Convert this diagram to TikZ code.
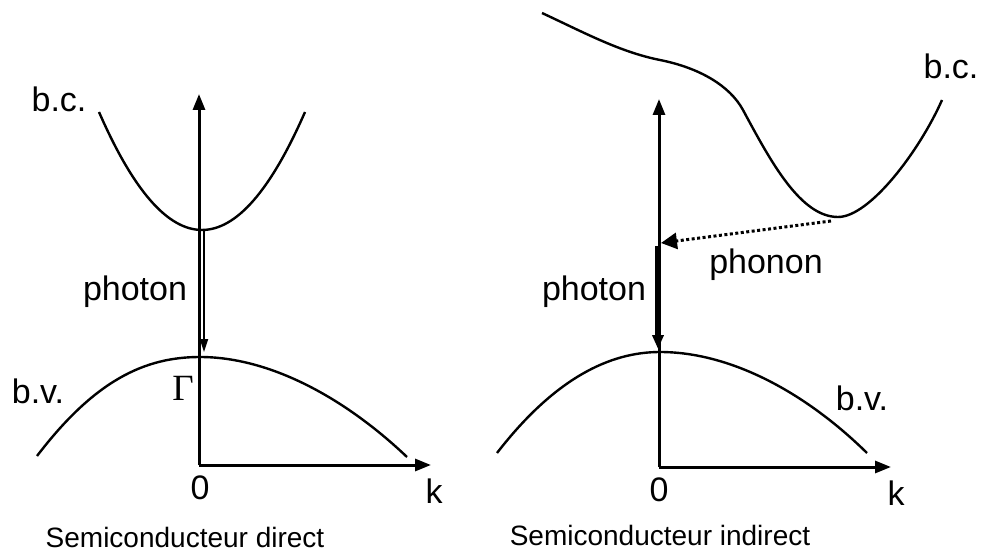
\documentclass[tikz,border=0pt]{standalone}
\usepackage{fontspec}
\setmainfont{Liberation Sans}
\newfontfamily\gammafont{Liberation Serif}
\usetikzlibrary{arrows.meta}
\tikzset{
  lbl/.style={inner sep=0pt, font=\fontsize{34}{40}\selectfont},
  captxt/.style={inner sep=0pt, font=\fontsize{28}{34}\selectfont},
  gam/.style={inner sep=0pt, font=\gammafont\fontsize{37}{42}\selectfont},
  axis/.style={line width=3pt, -{Triangle[length=16pt,width=12pt]}},
  band/.style={line width=2.4pt},
  thinph/.style={line width=1.8pt, -{Triangle[length=13pt,width=8pt]}},
  thickph/.style={line width=6pt, -{Triangle[length=14pt,width=11pt]}},
  phon/.style={line width=3pt, dash pattern=on 3pt off 2.5pt, -{Triangle[length=16pt,width=16pt]}}
}
\begin{document}
\begin{tikzpicture}[x=1pt,y=-1pt]
\useasboundingbox (0,0) rectangle (983,556);
% ---------- left: direct ----------
\coordinate (O1) at (199,465);
\coordinate (Y1) at (199,94);
\coordinate (X1) at (431,465);
\draw[axis] (O1) -- (Y1);
\draw[axis] (O1) -- (X1);
\draw[band] (99,112) .. controls (167.7,269.3) and (236.3,269.3) .. (305,112);
\draw[band] (37,456) .. controls (95,380) and (145,357) .. (200,357) .. controls (270,357) and (345,398) .. (407,457);
\coordinate (P1a) at (204,230);
\coordinate (P1b) at (204,352);
\draw[thinph] (P1a) -- (P1b);
\node[lbl] (bc1) at (59,99) {b.c.};
\node[lbl] (bv1) at (38,391) {b.v.};
\node[lbl] (ph1) at (135,292) {photon};
\node[gam] (G) at (183,388) {Γ};
\node[lbl] (z1) at (200,488) {0};
\node[lbl] (k1) at (434,491) {k};
\node[captxt] (c1) at (185,537) {Semiconducteur direct};
% ---------- right: indirect ----------
\coordinate (O2) at (659,467);
\coordinate (Y2) at (659,99);
\coordinate (X2) at (891,467);
\draw[axis] (O2) -- (Y2);
\draw[axis] (O2) -- (X2);
\draw[band] (542,13) .. controls (585,33) and (620,52) .. (660,60)
  .. controls (700,68) and (730,86) .. (743,110)
  .. controls (770,160) and (800,217) .. (838,217)
  .. controls (870,217) and (920,150) .. (942,100);
\draw[band] (497,453) .. controls (555,378) and (610,352) .. (660,352) .. controls (730,352) and (805,392) .. (867,453);
\coordinate (P2a) at (658,246);
\coordinate (P2b) at (658,349);
\draw[thickph] (P2a) -- (P2b);
\coordinate (Q) at (831,221);
\coordinate (Qt) at (661,243);
\draw[phon] (Q) -- (Qt);
\node[lbl] (bc2) at (951,66) {b.c.};
\node[lbl] (bv2) at (862,398) {b.v.};
\node[lbl] (ph2) at (594,292) {photon};
\node[lbl] (pn) at (766,265) {phonon};
\node[lbl] (z2) at (659,490) {0};
\node[lbl] (k2) at (896,493) {k};
\node[captxt] (c2) at (660,535) {Semiconducteur indirect};
\end{tikzpicture}
\end{document}
